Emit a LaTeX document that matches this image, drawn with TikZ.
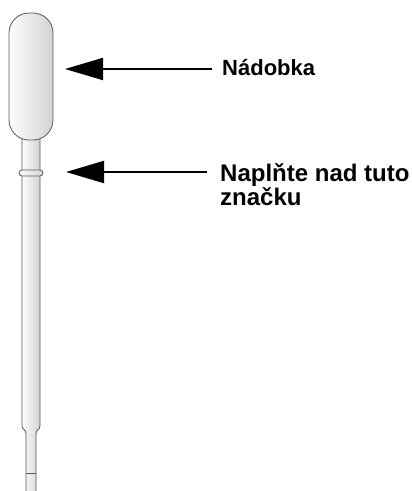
\documentclass[tikz,border=0pt]{standalone}
\usepackage{fontspec}
\setmainfont{Liberation Sans}
\usetikzlibrary{arrows.meta,positioning}
\pgfdeclarehorizontalshading{glass}{100bp}{color(0bp)=(gray!30); color(22bp)=(white); color(100bp)=(gray!50)}

\begin{document}
\begin{tikzpicture}[x=1pt,y=1pt,
  wall/.style={draw=black!65,line width=0.8pt,shading=glass},
  pointer/.style={line width=2pt,-{Triangle[length=38pt,width=22pt]}}]
%  \draw[gray] (0,0) rectangle(412,-491);
  \path[use as bounding box] (0,0) rectangle(412,-491);
  % stem with the narrow tip
  \shade[wall] (22,-139) -- (22,-426) .. controls (22,-430) and (26,-429) .. (26,-434)
     -- (26,-493) -- (36,-493) -- (36,-434) .. controls (36,-429) and (40,-430) .. (40,-426)
     -- (40,-139);
  \draw[black!65,line width=0.8pt] (26,-473) -- (36,-473);
  % bulb
  \shade[wall,rounded corners=20pt] (9,-13) rectangle(53,-140);
  % fill mark
  \shade[wall,rounded corners=3pt] (19,-170) rectangle(43,-176);
  \coordinate (bulbmark) at (65,-69);
  \coordinate (fillmark) at (66,-172);
  \node[anchor=base west,inner sep=0pt,font={\fontsize{22pt}{26pt}\selectfont\bfseries}] (bulbtag) at (222,-75) {Nádobka};
  \node[anchor=north west,inner sep=0pt,align=left,
        font={\fontsize{24pt}{22pt}\selectfont\bfseries}] (filltag) at (220,-163) {Naplňte nad tuto\\značku};
  \draw[pointer] (bulbtag.west |- bulbmark) ++(-10,0) -- (bulbmark);
  \draw[pointer] (filltag.west |- fillmark) ++(-13,0) -- (fillmark);
\end{tikzpicture}
\end{document}
